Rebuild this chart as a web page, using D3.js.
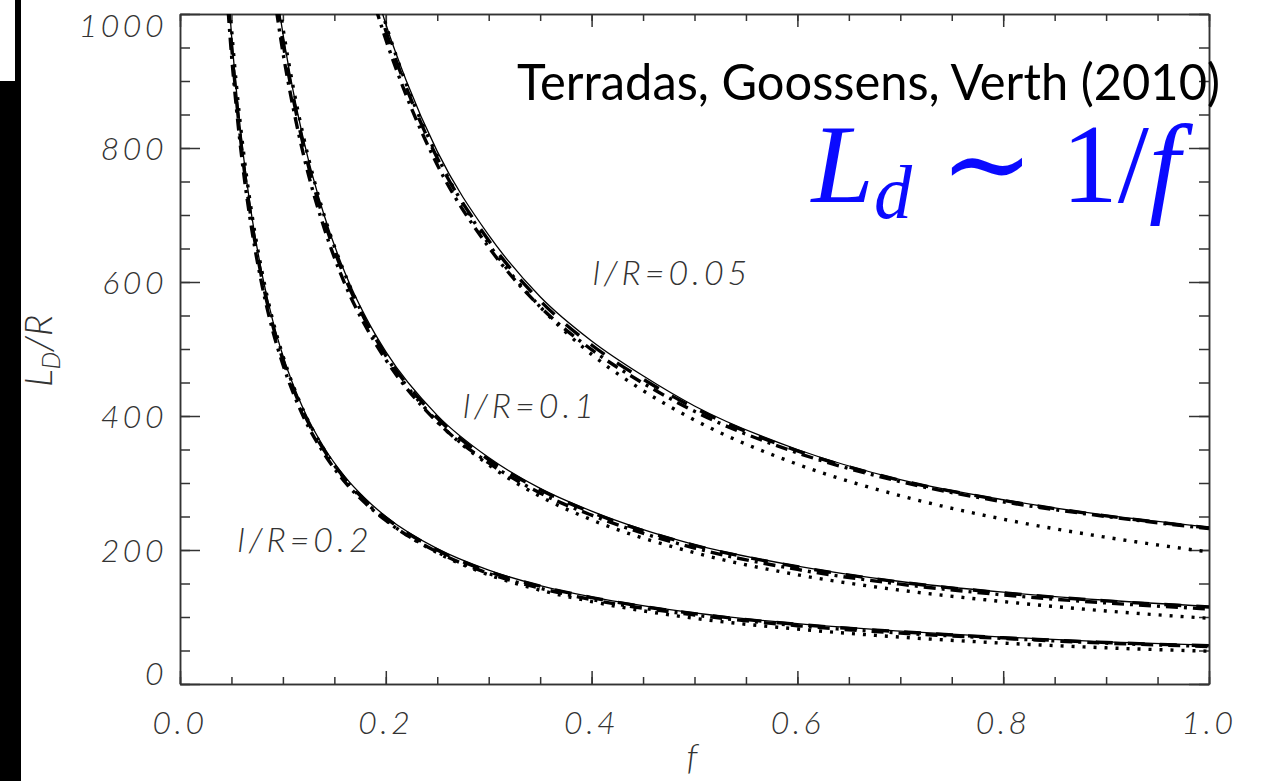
<!DOCTYPE html>
<html>
<head>
<meta charset="utf-8">
<script src="https://cdn.jsdelivr.net/npm/d3@7"></script>
<style>
  body { margin: 0; background: #fff; }
  svg { display: block; }
</style>
</head>
<body>
<div id="chart"></div>
<script>
// values (L_D/R against f)
var f05 = [0.19, 0.2, 0.22, 0.25, 0.3, 0.35, 0.4, 0.45, 0.5, 0.6, 0.7, 0.8, 0.9, 1.0]
var solid05   = [1035, 985, 900, 795, 670, 578, 512, 460, 415, 350, 305, 275, 252, 234]
var dashed05  = [1025, 975, 890, 785, 662, 572, 506, 455, 412, 348, 304, 274, 251, 233]
var dashdot05 = [1010, 962, 878, 775, 652, 563, 499, 449, 407, 345, 302, 272, 250, 232]
var dotted05  = [1037, 985, 895, 788, 657, 563, 492, 438, 394, 328, 281, 246, 219, 197]

var f10 = [0.09, 0.1, 0.11, 0.12, 0.14, 0.16, 0.18, 0.2, 0.25, 0.3, 0.35, 0.4, 0.5, 0.6, 0.7, 0.8, 0.9, 1.0]
var solid10   = [1076, 971, 885, 813, 700, 615, 549, 496, 401, 338, 292, 258, 208, 176, 153, 137, 125, 116]
var dashed10  = [1062, 958, 874, 803, 692, 608, 543, 491, 397, 335, 290, 256, 207, 175, 152, 136, 124, 115]
var dashdot10 = [1045, 943, 860, 790, 681, 598, 535, 484, 391, 330, 285, 252, 203, 171, 149, 133, 121, 112]
var dotted10  = [1089, 980, 891, 817, 700, 613, 544, 490, 392, 327, 280, 245, 196, 163, 140, 123, 109, 98]

var f20 = [0.045, 0.05, 0.055, 0.06, 0.07, 0.08, 0.09, 0.1, 0.12, 0.14, 0.16, 0.18, 0.2, 0.25, 0.3, 0.35, 0.4, 0.5, 0.6, 0.7, 0.8, 0.9, 1.0]
var solid20   = [1077, 970, 883, 810, 696, 610, 543, 490, 410, 353, 310, 277, 250, 202, 170, 147, 130, 106, 90, 79, 70, 63, 58]
var dashed20  = [1060, 955, 870, 798, 686, 602, 536, 484, 405, 349, 307, 274, 248, 200, 168, 146, 129, 105, 89, 78, 69, 62, 57]
var dashdot20 = [1045, 940, 857, 786, 676, 593, 528, 477, 399, 344, 302, 270, 244, 197, 165, 143, 126, 103, 87, 76, 68, 61, 56]
var dotted20  = [1089, 980, 891, 817, 700, 613, 544, 490, 408, 350, 306, 272, 245, 196, 163, 140, 123, 98, 82, 70, 61, 54, 49]

var xTicks = [0, 0.2, 0.4, 0.6, 0.8, 1.0]
var yTicks = [0, 200, 400, 600, 800, 1000]
var curveLabels = [
  {text: "l/R=0.05", f: 0.401, v: 599},
  {text: "l/R=0.1",  f: 0.275, v: 400},
  {text: "l/R=0.2",  f: 0.056, v: 200}
]

var width = 1261
    height = 781

var svg = d3.select("#chart").append("svg")
    .attr("width", width)
    .attr("height", height)

var x = d3.scaleLinear().domain([0, 1]).range([180, 1209])
var y = d3.scaleLinear().domain([0, 1000]).range([684, 14])

// black bar at the left edge of the slide
svg.append("rect").attr("x", 0).attr("y", 81).attr("width", 21).attr("height", height - 81).attr("fill", "#000")
svg.append("rect").attr("x", 15).attr("y", 0).attr("width", 6).attr("height", 81).attr("fill", "#000")

svg.append("clipPath").attr("id", "plotclip")
  .append("rect")
    .attr("x", x(0)).attr("y", y(1000))
    .attr("width", x(1) - x(0)).attr("height", y(0) - y(1000))

// axes with inward ticks (majors + minors), labels drawn separately
var xMinor = d3.range(0, 21).map(function(i) { return i * 0.05 })
var yMinor = d3.range(0, 21).map(function(i) { return i * 50 })

function drawAxis(axis, tx, ty) {
  var g = svg.append("g")
    .attr("transform", "translate(" + tx + "," + ty + ")")
    .call(axis)
  g.selectAll("path, line").attr("stroke", "#333").attr("stroke-width", 1.5)
  g.selectAll("text").remove()
  return g
}
drawAxis(d3.axisBottom(x).tickValues(xMinor).tickSizeInner(-7).tickSizeOuter(0).tickFormat(""), 0, y(0))
drawAxis(d3.axisBottom(x).tickValues(xTicks).tickSizeInner(-13).tickSizeOuter(0).tickFormat(""), 0, y(0))
drawAxis(d3.axisTop(x).tickValues(xMinor).tickSizeInner(-7).tickSizeOuter(0).tickFormat(""), 0, y(1000))
drawAxis(d3.axisTop(x).tickValues(xTicks).tickSizeInner(-13).tickSizeOuter(0).tickFormat(""), 0, y(1000))
drawAxis(d3.axisLeft(y).tickValues(yMinor).tickSizeInner(-10).tickSizeOuter(0).tickFormat(""), x(0), 0)
drawAxis(d3.axisLeft(y).tickValues(yTicks).tickSizeInner(-20).tickSizeOuter(0).tickFormat(""), x(0), 0)
drawAxis(d3.axisRight(y).tickValues(yMinor).tickSizeInner(-10).tickSizeOuter(0).tickFormat(""), x(1), 0)
drawAxis(d3.axisRight(y).tickValues(yTicks).tickSizeInner(-20).tickSizeOuter(0).tickFormat(""), x(1), 0)

var labelFont = "Lato, 'Liberation Sans', sans-serif"

svg.selectAll(".xlab").data(xTicks).enter().append("text")
    .attr("class", "xlab")
    .attr("x", function(d) { return x(d) })
    .attr("y", 734)
    .attr("text-anchor", "middle")
    .style("font-family", labelFont).style("font-style", "italic").style("font-weight", 300)
    .style("font-size", "32px").style("letter-spacing", "3.5px")
    .attr("fill", "#333")
    .text(function(d) { return d.toFixed(1) })

svg.selectAll(".ylab").data(yTicks).enter().append("text")
    .attr("class", "ylab")
    .attr("x", 167)
    .attr("y", function(d) { return y(d) + (d == 0 ? 1 : d == 1000 ? 23 : 12) })
    .attr("text-anchor", "end")
    .style("font-family", labelFont).style("font-style", "italic").style("font-weight", 300)
    .style("font-size", "32px").style("letter-spacing", "3.5px")
    .attr("fill", "#333")
    .text(function(d) { return d })

// axis titles
var yt = svg.append("text")
    .attr("transform", "translate(52,351) rotate(-90)")
    .attr("text-anchor", "middle")
    .style("font-family", labelFont).style("font-style", "italic").style("font-weight", 300)
    .style("font-size", "38px")
    .attr("fill", "#333")
yt.append("tspan").text("L")
yt.append("tspan").attr("dy", 8).style("font-size", "25px").text("D")
yt.append("tspan").attr("dy", -8).text("/R")

svg.append("text")
    .attr("x", 692).attr("y", 769)
    .attr("text-anchor", "middle")
    .style("font-family", labelFont).style("font-style", "italic").style("font-weight", 300)
    .style("font-size", "36px")
    .attr("fill", "#333")
    .text("f")

// curves
var styles = {
  solid:   {w: 1.3, dash: null},
  dashed:  {w: 3.4, dash: "17,15"},
  dashdot: {w: 3.4, dash: "12,6,3,6"},
  dotted:  {w: 3.4, dash: "3,8"}
}
var series = [
  {f: f05, v: solid05, s: "solid"}, {f: f05, v: dashed05, s: "dashed"},
  {f: f05, v: dashdot05, s: "dashdot"}, {f: f05, v: dotted05, s: "dotted"},
  {f: f10, v: solid10, s: "solid"}, {f: f10, v: dashed10, s: "dashed"},
  {f: f10, v: dashdot10, s: "dashdot"}, {f: f10, v: dotted10, s: "dotted"},
  {f: f20, v: solid20, s: "solid"}, {f: f20, v: dashed20, s: "dashed"},
  {f: f20, v: dashdot20, s: "dashdot"}, {f: f20, v: dotted20, s: "dotted"}
]

var line = d3.line()
    .x(function(d) { return x(d[0]) })
    .y(function(d) { return y(d[1]) })
    .curve(d3.curveMonotoneX)

var plot = svg.append("g").attr("clip-path", "url(#plotclip)")
plot.selectAll(".curve").data(series).enter().append("path")
    .attr("class", "curve")
    .attr("d", function(d) { return line(d.f.map(function(fv, i) { return [fv, d.v[i]] })) })
    .attr("fill", "none")
    .attr("stroke", "#000")
    .attr("stroke-width", function(d) { return styles[d.s].w })
    .attr("stroke-dasharray", function(d) { return styles[d.s].dash })

svg.selectAll(".clab").data(curveLabels).enter().append("text")
    .attr("class", "clab")
    .attr("x", function(d) { return x(d.f) })
    .attr("y", function(d) { return y(d.v) + 2 })
    .style("font-family", labelFont).style("font-style", "italic").style("font-weight", 300)
    .style("font-size", "34px").style("letter-spacing", "4px")
    .attr("fill", "#333")
    .text(function(d) { return d.text })

// annotations
svg.append("text")
    .attr("x", 517).attr("y", 100)
    .attr("textLength", 703).attr("lengthAdjust", "spacingAndGlyphs")
    .style("font-family", "Lato, 'Open Sans', sans-serif")
    .style("font-size", "51px")
    .attr("fill", "#000")
    .text("Terradas, Goossens, Verth (2010)")

var eq = svg.append("text")
    .attr("x", 1180).attr("y", 202)
    .attr("text-anchor", "end")
    .style("font-family", "'Liberation Serif', 'DejaVu Serif', serif")
    .style("font-size", "112px")
    .attr("fill", "#0a0aff")
eq.append("tspan").style("font-style", "italic").text("L")
eq.append("tspan").attr("dy", 16).style("font-style", "italic").style("font-size", "76px").text("d")
eq.append("tspan").attr("dy", -16).text(" ∼ 1/")
eq.append("tspan").style("font-style", "italic").text("f")
</script>
</body>
</html>
